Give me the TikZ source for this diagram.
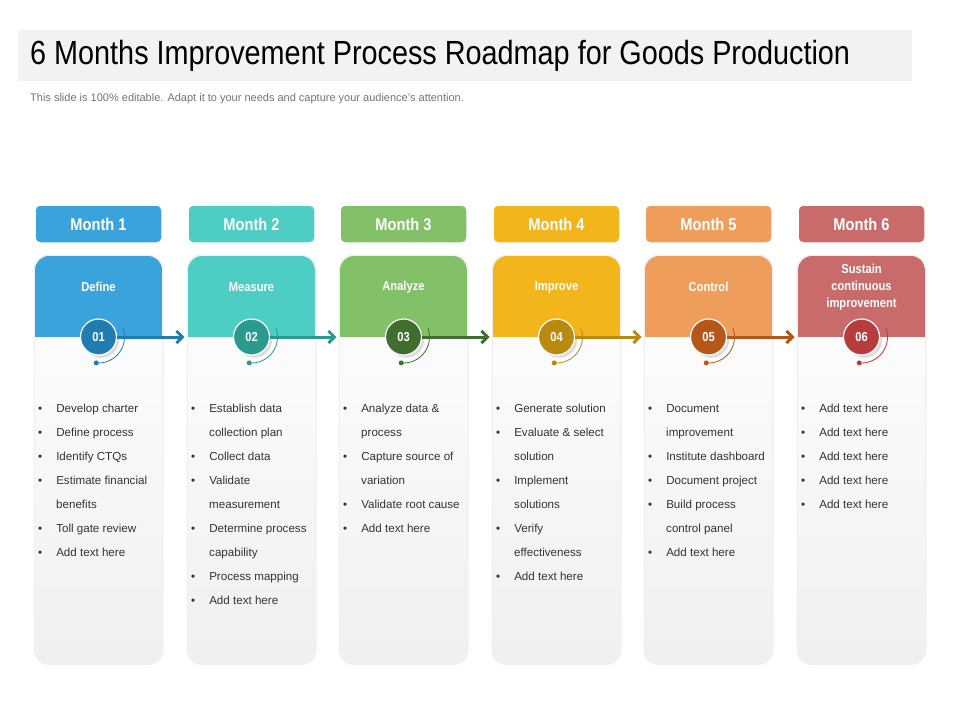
\documentclass[tikz,border=0pt]{standalone}
\usepackage{fontspec}
\setmainfont{Liberation Sans}
\newfontfamily\narrowf[FakeStretch=0.86]{Liberation Sans}
\usetikzlibrary{arrows.meta,shadows}
\definecolor{cA}{HTML}{3BA3DB}\definecolor{dA}{HTML}{1F7DB0}
\definecolor{cB}{HTML}{4ECDC4}\definecolor{dB}{HTML}{2A9A8E}
\definecolor{cC}{HTML}{82C168}\definecolor{dC}{HTML}{3F6E2F}
\definecolor{cD}{HTML}{F2B51B}\definecolor{dD}{HTML}{B88A0F}
\definecolor{cE}{HTML}{EE9D5A}\definecolor{dE}{HTML}{B5561A}
\definecolor{cF}{HTML}{C96B6B}\definecolor{dF}{HTML}{B83B3E}
\tikzset{
 monthbox/.style={rounded corners=5pt,draw=white,line width=1.5pt,minimum width=127pt,minimum height=38pt,font=\narrowf\bfseries\fontsize{17}{18}\selectfont,text=white,drop shadow={opacity=0.2,shadow xshift=0pt,shadow yshift=-1pt}},
 numc/.style={circle,draw=white,line width=1.2pt,minimum size=36pt,font=\narrowf\bfseries\fontsize{13}{14}\selectfont,text=white},
 bul/.style={anchor=north west,align=left,font=\fontsize{11.6}{24}\selectfont,text=black!80,inner sep=0pt},
 head/.style={align=center,font=\narrowf\bfseries\fontsize{13}{17}\selectfont,text=white},
}
\newcommand{\colmn}[7]{%
 \begin{scope}[shift={(#1,0)}]
 \fill[black!6,rounded corners=15pt] (-1.5,254.5) rectangle (128.5,665);
 \shade[top color=white,bottom color=black!6,rounded corners=14pt] (0,256) rectangle (127,663);
 \begin{scope}
 \clip[rounded corners=14pt] (0,256) rectangle (127,663);
 \fill[#2] (0,256) rectangle (127,337);
 \end{scope}
 \node[monthbox,fill=#2] (m#6) at (63.5,224) {#4};
 \node[head] (h#6) at (63.5,287) {#5};
 \draw[#3,line width=0.8pt] (63.5,337) ++(95:26) arc (95:-20:26);
 \fill[#3] (63.5,337) ++(95:26) circle (2.5);
 \node[numc,fill=#3,drop shadow={opacity=0.25}] (n#6) at (63.5,337) {#6};
 \node[bul] (b#6) at (3,404) {#7};
 \end{scope}}
\begin{document}
\begin{tikzpicture}[x=1pt,y=-1pt]
\useasboundingbox (0,0) rectangle (960,720);
\fill[black!5] (18,30) rectangle (912,81);
\node[anchor=west,font=\narrowf\fontsize{33.5}{36}\selectfont,inner sep=0pt] (title) at (30,56) {6 Months Improvement Process Roadmap for Goods Production};
\node[anchor=west,font=\fontsize{11}{13}\selectfont,text=black!55,inner sep=0pt] (sub) at (30,99) {This slide is 100\% editable. Adapt it to your needs and capture your audience's attention.};
\newcommand{\bl}{\textbullet\hspace{14pt}}
\newcommand{\cl}{\hspace*{18pt}}
\colmn{35}{cA}{dA}{Month 1}{Define}{01}{\bl Develop charter\\\bl Define process\\\bl Identify CTQs\\\bl Estimate financial\\\cl benefits\\\bl Toll gate review\\\bl Add text here}
\colmn{188}{cB}{dB}{Month 2}{Measure}{02}{\bl Establish data\\\cl collection plan\\\bl Collect data\\\bl Validate\\\cl measurement\\\bl Determine process\\\cl capability\\\bl Process mapping\\\bl Add text here}
\colmn{340}{cC}{dC}{Month 3}{Analyze}{03}{\bl Analyze data \&\\\cl process\\\bl Capture source of\\\cl variation\\\bl Validate root cause\\\bl Add text here}
\colmn{493}{cD}{dD}{Month 4}{Improve}{04}{\bl Generate solution\\\bl Evaluate \& select\\\cl solution\\\bl Implement\\\cl solutions\\\bl Verify\\\cl effectiveness\\\bl Add text here}
\colmn{645}{cE}{dE}{Month 5}{Control}{05}{\bl Document\\\cl improvement\\\bl Institute dashboard\\\bl Document project\\\bl Build process\\\cl control panel\\\bl Add text here}
\colmn{798}{cF}{dF}{Month 6}{Sustain\\continuous\\improvement}{06}{\bl Add text here\\\bl Add text here\\\bl Add text here\\\bl Add text here\\\bl Add text here}
\foreach \a/\b/\c in {01/02/dA,02/03/dB,03/04/dC,04/05/dD,05/06/dE}
 \draw[\c,line width=3pt,-{Straight Barb[length=6pt,width=12pt,line width=3pt]}] (n\a.east) -- ([xshift=-67pt]n\b.center);
\end{tikzpicture}
\end{document}
